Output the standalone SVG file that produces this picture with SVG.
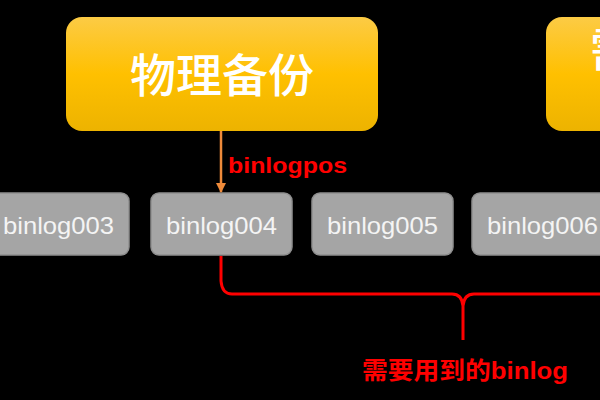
<svg xmlns="http://www.w3.org/2000/svg" width="600" height="400" viewBox="0 0 600 400">
  <defs>
    <linearGradient id="gold" x1="0" y1="0" x2="0" y2="1">
      <stop offset="0" stop-color="#FCCB45"/>
      <stop offset="0.5" stop-color="#FFC000"/>
      <stop offset="1" stop-color="#EDB300"/>
    </linearGradient>
    <marker id="arr" viewBox="0 0 10 10" refX="9" refY="5" markerWidth="4" markerHeight="4" orient="auto" markerUnits="strokeWidth">
      <path d="M0,0 L10,5 L0,10 Z" fill="#EE8A3A"/>
    </marker>
  </defs>
  <style>
    .big { fill: url(#gold); }
    .bigtxt { fill: #FFFFFF; font-family: "Noto Sans CJK SC", sans-serif; font-size: 46px; font-weight: 500; text-anchor: middle; }
    .file { fill: #A5A5A5; stroke: #8E8E8E; stroke-width: 1.5; }
    .filetxt { fill: #F4F4F4; font-family: "Liberation Sans", Arial, sans-serif; font-size: 24px; text-anchor: middle; }
    .red { fill: #FF0000; font-weight: bold; font-family: "Liberation Sans", "Noto Sans CJK SC", sans-serif; }
  </style>
  <rect width="600" height="400" fill="#000000"/>

  <g id="node-physical-backup">
    <rect class="big" x="66" y="17" width="312" height="114" rx="16"/>
    <text class="bigtxt" x="222" y="92">物理备份</text>
  </g>
  <g id="node-needed">
    <rect class="big" x="546" y="17" width="120" height="114" rx="16"/>
    <text class="bigtxt" x="590" y="66" style="text-anchor:start">需</text>
  </g>

  <g id="node-binlog003">
    <rect class="file" x="-12" y="193" width="141" height="62" rx="8"/>
    <text class="filetxt" x="58.5" y="234" textLength="111" lengthAdjust="spacingAndGlyphs">binlog003</text>
  </g>
  <g id="node-binlog004">
    <rect class="file" x="151" y="193" width="141" height="62" rx="8"/>
    <text class="filetxt" x="221.5" y="234" textLength="111" lengthAdjust="spacingAndGlyphs">binlog004</text>
  </g>
  <g id="node-binlog005">
    <rect class="file" x="312" y="193" width="141" height="62" rx="8"/>
    <text class="filetxt" x="382.5" y="234" textLength="111" lengthAdjust="spacingAndGlyphs">binlog005</text>
  </g>
  <g id="node-binlog006">
    <rect class="file" x="472" y="193" width="141" height="62" rx="8"/>
    <text class="filetxt" x="542.5" y="234" textLength="111" lengthAdjust="spacingAndGlyphs">binlog006</text>
  </g>

  <g id="connectors">
    <line x1="221" y1="131" x2="221" y2="192" stroke="#EE8A3A" stroke-width="2.5" marker-end="url(#arr)"/>
    <text class="red" x="228" y="173" font-size="22" textLength="119" lengthAdjust="spacingAndGlyphs">binlogpos</text>
    <path d="M221,256 V281 Q222,294 232,294 H452 Q462,294 463,306 V340 M463,306 Q464,294 474,294 H600" fill="none" stroke="#FF0000" stroke-width="3"/>
    <text class="red" x="362" y="379" font-size="24" textLength="206" lengthAdjust="spacingAndGlyphs">需要用到的binlog</text>
  </g>
</svg>
